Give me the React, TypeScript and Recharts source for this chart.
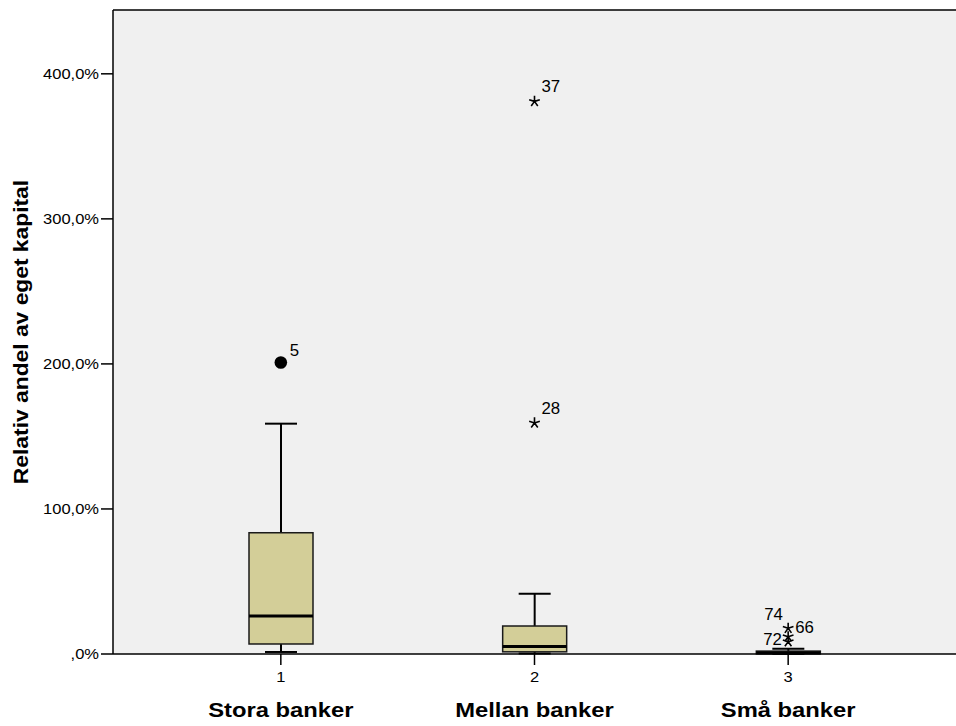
import React from "react";
import {
  Bar,
  CartesianGrid,
  ComposedChart,
  ReferenceLine,
  Scatter,
  XAxis,
  YAxis,
} from "recharts";

// Box statistics per bank group (percent of equity)
const groupCodes = ["1", "2", "3"];
const groupNames = ["Stora banker", "Mellan banker", "Små banker"];
const whiskerLow = [1.4, 0.3, 0.0];
const lowerQuartile = [6.9, 1.5, 0.1];
const medians = [26.2, 5.2, 0.8];
const upperQuartile = [83.6, 19.3, 2.0];
const whiskerHigh = [158.8, 41.6, 3.7];

// Outlying cases: group code, case number, value, marker kind
const outlierGroup = ["1", "2", "2", "3", "3", "3"];
const outlierCase = ["5", "37", "28", "74", "66", "72"];
const outlierValue = [201.0, 381.0, 159.3, 11.9, 17.7, 8.5];
const outlierKind = ["circle", "star", "star", "star", "star", "star"];

const yTicks = [0, 100, 200, 300, 400];
const yMax = 444;

const FONT = '"Liberation Sans", Arial, Helvetica, sans-serif';
const BOX_FILL = "#D3CE98";
const INK = "#000000";

// where each case number sits relative to its marker
const caseLabelOffset: Record<string, [number, number]> = {
  "5": [9, -6],
  "37": [7, -9],
  "28": [7, -9],
  "74": [-24, -17],
  "66": [7, 5],
  "72": [-25, 3],
};

const boxRows = groupCodes.map((code, i) => ({
  code,
  name: groupNames[i],
  range: [whiskerLow[i], whiskerHigh[i]],
  q1: lowerQuartile[i],
  median: medians[i],
  q3: upperQuartile[i],
}));

const outlierRows = outlierCase.map((id, i) => ({
  code: outlierGroup[i],
  value: outlierValue[i],
  id,
  kind: outlierKind[i],
}));

function pct(v: number): string {
  return v === 0 ? ",0%" : `${v},0%`;
}

// One box-and-whisker, drawn inside the range bar [low whisker, high whisker]
function BoxShape(props: any) {
  const { x, y, width, height, payload } = props;
  if (x == null || y == null) return null;
  const [lo, hi] = payload.range as number[];
  const top = Math.min(y, y + height);
  const bottom = Math.max(y, y + height);
  const toPx = (v: number) => bottom - ((v - lo) / (hi - lo)) * (bottom - top);
  const cx = x + width / 2;
  const cap = width / 4;
  const yQ1 = toPx(payload.q1);
  const yQ3 = toPx(payload.q3);
  const yMed = toPx(payload.median);
  return (
    <g>
      <line x1={cx} x2={cx} y1={yQ3} y2={top} stroke={INK} strokeWidth={2} />
      <line x1={cx - cap} x2={cx + cap} y1={top} y2={top} stroke={INK} strokeWidth={2} />
      <line x1={cx} x2={cx} y1={yQ1} y2={bottom} stroke={INK} strokeWidth={2} />
      <line x1={cx - cap} x2={cx + cap} y1={bottom} y2={bottom} stroke={INK} strokeWidth={2} />
      <rect
        x={x}
        y={yQ3}
        width={width}
        height={Math.max(yQ1 - yQ3, 1)}
        fill={BOX_FILL}
        stroke="#1a1a1a"
        strokeWidth={1.5}
      />
      <line x1={x} x2={x + width} y1={yMed} y2={yMed} stroke={INK} strokeWidth={3} />
    </g>
  );
}

function OutlierShape(props: any) {
  const { cx, cy, payload } = props;
  if (cx == null || cy == null) return null;
  const [dx, dy] = caseLabelOffset[payload.id] ?? [8, -8];
  let marker: React.ReactNode;
  if (payload.kind === "circle") {
    marker = <circle cx={cx} cy={cy} r={6.3} fill={INK} />;
  } else {
    const r = 5.6;
    const spokes = [-90, -18, 54, 126, 198].map((a) => {
      const t = (a * Math.PI) / 180;
      return `M${cx},${cy}L${cx + r * Math.cos(t)},${cy + r * Math.sin(t)}`;
    });
    marker = <path d={spokes.join("")} stroke={INK} strokeWidth={1.6} fill="none" />;
  }
  return (
    <g>
      {marker}
      <text
        transform={`translate(${cx + dx},${cy + dy}) scale(1.05,1)`}
        fontFamily={FONT}
        fontSize={16}
        fill={INK}
      >
        {payload.id}
      </text>
    </g>
  );
}

function YTick(props: any) {
  const { x, y, payload } = props;
  return (
    <text
      transform={`translate(${x},${y}) scale(1.1,1)`}
      textAnchor="end"
      dy="0.36em"
      fontFamily={FONT}
      fontSize={15}
      fill={INK}
    >
      {pct(payload.value)}
    </text>
  );
}

function XTick(props: any) {
  const { x, y, payload } = props;
  const idx = groupCodes.indexOf(String(payload.value));
  return (
    <g>
      <text
        transform={`translate(${x},${y + 15}) scale(1.1,1)`}
        textAnchor="middle"
        fontFamily={FONT}
        fontSize={15}
        fill={INK}
      >
        {payload.value}
      </text>
      <text
        transform={`translate(${x},${y + 50}) scale(1.16,1)`}
        textAnchor="middle"
        fontFamily={FONT}
        fontSize={20.5}
        fontWeight="bold"
        fill={INK}
      >
        {groupNames[idx] ?? ""}
      </text>
    </g>
  );
}

function YTitle(props: any) {
  const { viewBox } = props;
  const cy = viewBox.y + viewBox.height / 2;
  return (
    <text
      transform={`translate(28,${cy}) rotate(-90) scale(1.17,1)`}
      textAnchor="middle"
      fontFamily={FONT}
      fontSize={19.5}
      fontWeight="bold"
      fill={INK}
    >
      Relativ andel av eget kapital
    </text>
  );
}

export default function App() {
  return (
    <div
      style={{
        position: "absolute",
        left: 0,
        top: 0,
        width: 956,
        height: 726,
        background: "#ffffff",
        overflow: "hidden",
      }}
    >
      <ComposedChart
        width={956}
        height={726}
        data={boxRows}
        margin={{ top: 10, right: 0, bottom: 0, left: 0 }}
      >
        <CartesianGrid fill="#F0F0F0" stroke="none" />
        <XAxis
          dataKey="code"
          type="category"
          allowDuplicatedCategory={false}
          padding={{ left: 41, right: 41 }}
          height={72}
          tickSize={11}
          tickMargin={2}
          axisLine={{ stroke: INK, strokeWidth: 1.5 }}
          tickLine={{ stroke: INK, strokeWidth: 1.5 }}
          tick={<XTick />}
          interval={0}
        />
        <YAxis
          type="number"
          domain={[0, yMax]}
          ticks={yTicks}
          width={113}
          tickSize={12}
          tickMargin={2}
          axisLine={{ stroke: INK, strokeWidth: 1.5 }}
          tickLine={{ stroke: INK, strokeWidth: 1.5 }}
          tick={<YTick />}
          label={<YTitle />}
        />
        <ReferenceLine y={yMax} stroke={INK} strokeWidth={1.5} />
        <Bar dataKey="range" barSize={64} shape={<BoxShape />} isAnimationActive={false} />
        <Scatter
          data={outlierRows}
          dataKey="value"
          shape={<OutlierShape />}
          isAnimationActive={false}
        />
      </ComposedChart>
    </div>
  );
}
